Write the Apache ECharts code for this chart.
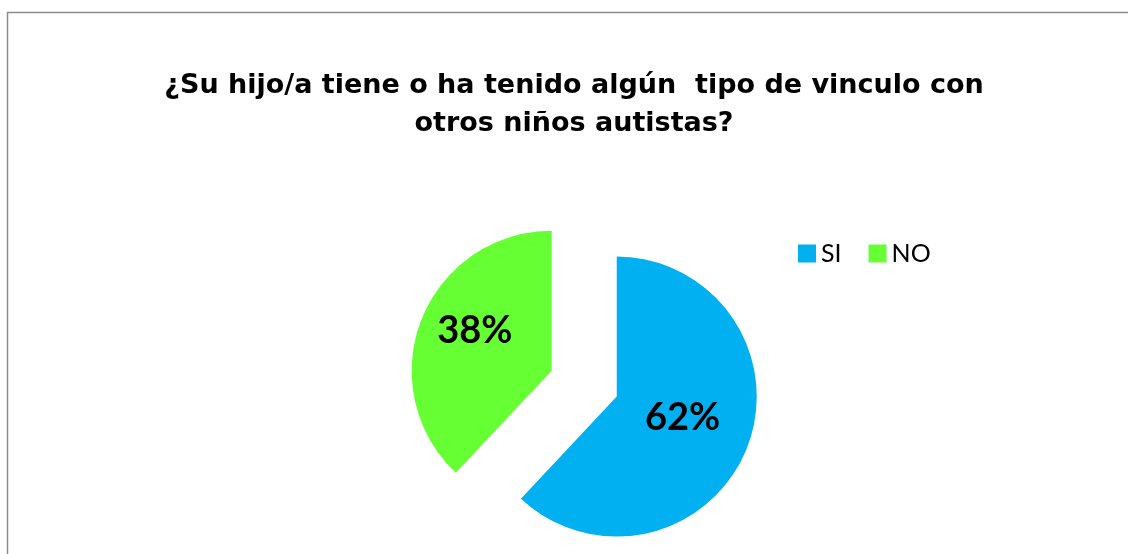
<!DOCTYPE html>
<html>
<head>
<meta charset="utf-8">
<script src="https://cdn.jsdelivr.net/npm/echarts@6/dist/echarts.min.js"></script>
<style>
html,body{margin:0;padding:0;background:#fff;}
#chart{width:1128px;height:554px;}
</style>
</head>
<body>
<div id="chart"></div>
<script>
const titleText = '¿Su hijo/a tiene o ha tenido algún  tipo de vinculo con\notros niños autistas?';
const categories = ['SI', 'NO'];
const values = [62, 38];
const colors = ['#00B0F0', '#66FF33'];

const chart = echarts.init(document.getElementById('chart'));
const data = categories.map((c, i) => ({
  name: c,
  value: values[i],
  selected: true,
  itemStyle: { color: colors[i] },
  label: {
    padding: i === 1 ? [0, 18, 0, 0] : [0, 4, 0, 0],
    rich: { b: { lineHeight: i === 1 ? 26 : 12, fontSize: 1 } }
  }
}));
chart.setOption({
  animation: false,
  graphic: [{
    type: 'rect',
    shape: { x: 7.5, y: 12.5, width: 1300, height: 700 },
    style: { fill: 'none', stroke: '#8c8c8c', lineWidth: 1.5 },
    silent: true
  }],
  title: {
    text: titleText,
    left: 574,
    textAlign: 'center',
    top: 67,
    padding: 0,
    textStyle: {
      fontFamily: '"DejaVu Sans", Arial, sans-serif',
      fontWeight: 'bold',
      fontSize: 27,
      lineHeight: 38,
      color: '#000'
    }
  },
  legend: {
    data: categories,
    left: 793,
    top: 236,
    itemWidth: 18,
    itemHeight: 18,
    itemGap: 27,
    icon: 'rect',
    selectedMode: false,
    textStyle: {
      fontFamily: 'Lato, "Open Sans", sans-serif',
      fontSize: 25,
      color: '#000'
    }
  },
  series: [{
    type: 'pie',
    center: [584.2, 383.7],
    radius: 140,
    startAngle: 90,
    clockwise: true,
    selectedMode: 'multiple',
    selectedOffset: 35,
    data: data,
    label: {
      show: true,
      position: 'inside',
      formatter: p => '{a|' + Math.round(p.percent) + '%}\n{b| }',
      rich: {
        a: {
          fontFamily: 'Lato, "Open Sans", sans-serif',
          fontWeight: 'bold',
          fontSize: 38,
          lineHeight: 44,
          color: '#000'
        }
      }
    },
    labelLine: { show: false },
    itemStyle: { borderWidth: 0 },
    emphasis: { disabled: true }
  }]
});
</script>
</body>
</html>
